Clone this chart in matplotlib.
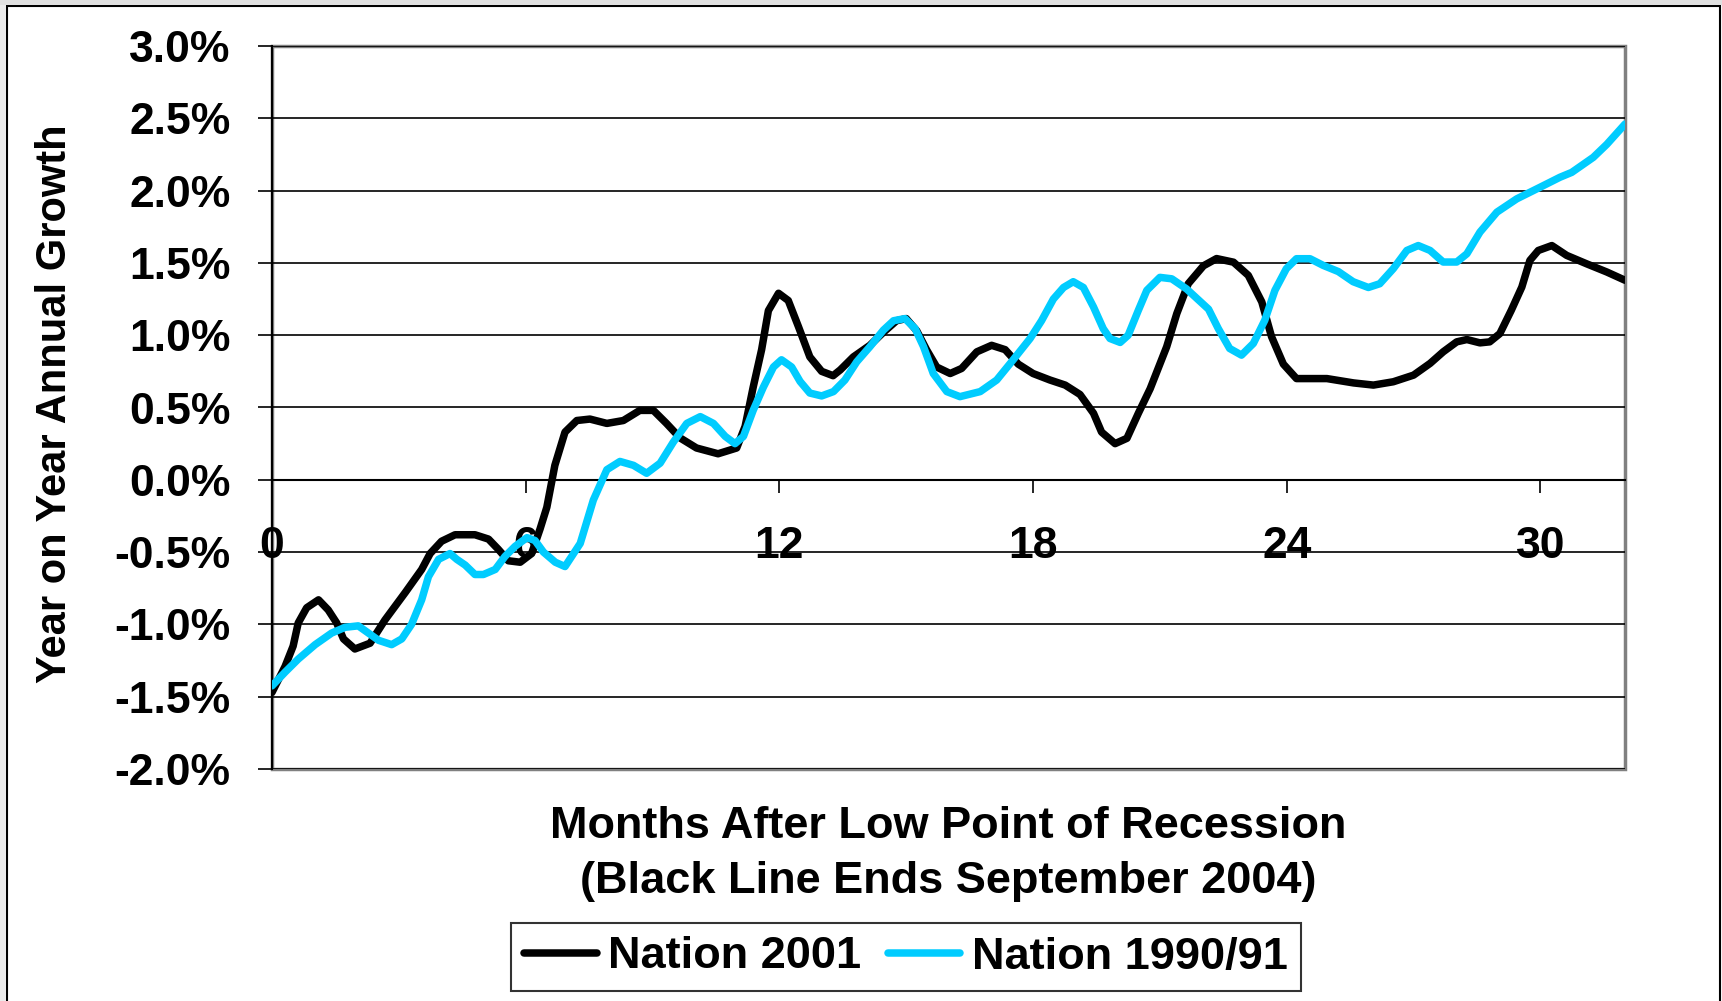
import matplotlib
matplotlib.use("Agg")
import matplotlib.pyplot as plt
from matplotlib.patches import Rectangle
from matplotlib.ticker import FuncFormatter

plt.rcParams['font.family'] = ['Liberation Sans', 'DejaVu Sans']
plt.rcParams['font.weight'] = 'bold'

# months after low point, year-on-year growth (%)
months_2001 = [0.0, 0.31, 0.5, 0.62, 0.82, 1.10, 1.33, 1.53, 1.69, 1.96, 2.32, 2.67, 3.15, 3.54,
               3.74, 4.01, 4.33, 4.80, 5.12, 5.35, 5.59, 5.87, 6.14, 6.34, 6.50, 6.69, 6.93, 7.21,
               7.52, 7.92, 8.31, 8.70, 9.02, 9.33, 9.65, 10.04, 10.55, 10.99, 11.19, 11.38, 11.58,
               11.74, 11.98, 12.21, 12.45, 12.72, 13.0, 13.27, 13.44, 13.75, 14.14, 14.46, 14.77,
               15.0, 15.25, 15.48, 15.72, 16.04, 16.31, 16.67, 17.02, 17.34, 17.65, 18.0, 18.40,
               18.76, 19.11, 19.43, 19.62, 19.94, 20.22, 20.49, 20.77, 21.16, 21.40, 21.67, 22.03,
               22.34, 22.74, 23.09, 23.41, 23.64, 23.92, 24.23, 24.95, 25.58, 26.05, 26.52, 27.0,
               27.39, 27.7, 28.02, 28.26, 28.57, 28.8, 29.04, 29.31, 29.56, 29.75, 29.95, 30.27,
               30.62, 31.09, 31.57, 32.0]
growth_2001 = [-1.47, -1.29, -1.15, -0.99, -0.885, -0.83, -0.90, -0.99, -1.10, -1.17, -1.13, -0.97,
               -0.78, -0.62, -0.51, -0.425, -0.38, -0.38, -0.41, -0.48, -0.56, -0.57, -0.51, -0.34,
               -0.19, 0.10, 0.33, 0.41, 0.42, 0.39, 0.41, 0.48, 0.48, 0.39, 0.29, 0.22, 0.18, 0.22,
               0.37, 0.64, 0.90, 1.17, 1.29, 1.24, 1.06, 0.85, 0.75, 0.72, 0.76, 0.85, 0.93, 1.02,
               1.10, 1.115, 1.03, 0.90, 0.78, 0.735, 0.77, 0.885, 0.93, 0.90, 0.80, 0.735, 0.69,
               0.655, 0.59, 0.46, 0.33, 0.25, 0.287, 0.46, 0.63, 0.92, 1.15, 1.356, 1.48, 1.53,
               1.505, 1.414, 1.23, 0.99, 0.80, 0.70, 0.70, 0.67, 0.655, 0.678, 0.724, 0.805, 0.885,
               0.954, 0.97, 0.947, 0.954, 1.011, 1.172, 1.333, 1.517, 1.586, 1.62, 1.552, 1.494,
               1.437, 1.38]

months_1990 = [0.0, 0.31, 0.62, 1.02, 1.41, 1.73, 2.04, 2.28, 2.52, 2.83, 3.07, 3.30, 3.54, 3.70,
               3.94, 4.21, 4.37, 4.57, 4.80, 5.0, 5.28, 5.51, 5.75, 6.03, 6.22, 6.42, 6.70, 6.93,
               7.29, 7.60, 7.92, 8.23, 8.55, 8.86, 9.18, 9.49, 9.81, 10.13, 10.44, 10.72, 10.95,
               11.15, 11.38, 11.62, 11.86, 12.05, 12.29, 12.49, 12.72, 13.0, 13.28, 13.55, 13.83,
               14.14, 14.46, 14.7, 14.97, 15.21, 15.41, 15.64, 15.96, 16.27, 16.75, 17.14, 17.53,
               17.93, 18.2, 18.48, 18.72, 18.95, 19.19, 19.43, 19.66, 19.82, 20.06, 20.25, 20.49,
               20.69, 21.0, 21.28, 21.63, 22.15, 22.38, 22.65, 22.93, 23.21, 23.48, 23.72, 23.99,
               24.23, 24.55, 24.86, 25.22, 25.57, 25.93, 26.2, 26.52, 26.84, 27.11, 27.39, 27.7,
               28.02, 28.26, 28.57, 28.97, 29.44, 29.99, 30.46, 30.74, 31.25, 31.57, 32.0]
growth_1990 = [-1.425, -1.33, -1.24, -1.14, -1.06, -1.02, -1.01, -1.06, -1.11, -1.14, -1.10, -1.0,
               -0.83, -0.67, -0.55, -0.51, -0.55, -0.59, -0.655, -0.655, -0.62, -0.53, -0.46, -0.40,
               -0.42, -0.50, -0.57, -0.60, -0.44, -0.14, 0.07, 0.127, 0.10, 0.045, 0.115, 0.26,
               0.39, 0.437, 0.39, 0.30, 0.25, 0.30, 0.48, 0.64, 0.78, 0.83, 0.78, 0.68, 0.60, 0.58,
               0.61, 0.69, 0.816, 0.92, 1.035, 1.10, 1.115, 1.046, 0.92, 0.735, 0.61, 0.575, 0.61,
               0.69, 0.83, 0.977, 1.10, 1.25, 1.33, 1.37, 1.33, 1.195, 1.045, 0.977, 0.95, 1.0,
               1.172, 1.31, 1.40, 1.39, 1.32, 1.18, 1.046, 0.908, 0.862, 0.943, 1.103, 1.31, 1.46,
               1.529, 1.529, 1.483, 1.44, 1.37, 1.33, 1.356, 1.46, 1.586, 1.62, 1.586, 1.506, 1.506,
               1.563, 1.713, 1.851, 1.943, 2.023, 2.092, 2.126, 2.23, 2.32, 2.46]

x_ticks = [0, 6, 12, 18, 24, 30]
y_ticks = [-2.0, -1.5, -1.0, -0.5, 0.0, 0.5, 1.0, 1.5, 2.0, 2.5, 3.0]

fig = plt.figure(figsize=(17.22, 10.01), dpi=100)
ax = fig.add_axes([272 / 1722, 1 - 769 / 1001, 1353 / 1722, 723 / 1001])

ax.plot(months_2001, growth_2001, color='black', lw=5.4, label='Nation 2001',
        solid_joinstyle='round', solid_capstyle='round', zorder=3)
ax.plot(months_1990, growth_1990, color='#00CCFF', lw=5.4, label='Nation 1990/91',
        solid_joinstyle='round', solid_capstyle='round', zorder=3)

ax.set_xlim(0, 32)
ax.set_ylim(-2.0, 3.0)
ax.set_xticks(x_ticks)
ax.set_yticks(y_ticks)
ax.yaxis.set_major_formatter(FuncFormatter(lambda v, p: f"{v:.1f}%"))
ax.yaxis.grid(True, color='black', lw=1.2)
ax.set_axisbelow('line')

# axis crosses at zero, plot area framed in grey
ax.spines['bottom'].set_position(('data', 0))
for s in ['top', 'right']:
    ax.spines[s].set_visible(False)
ax.spines['left'].set_color('black')
ax.spines['left'].set_linewidth(1.5)
ax.spines['bottom'].set_linewidth(1.5)
ax.add_patch(Rectangle((0, 0), 1, 1, transform=ax.transAxes, fill=False,
                       edgecolor='#808080', lw=2.5, clip_on=False, zorder=1))

ax.tick_params(axis='y', direction='out', length=10, width=1.2, pad=20, labelsize=32)
ax.tick_params(axis='x', direction='out', length=9.5, width=1.2, pad=24, labelsize=32)
for t in ax.get_xticklabels() + ax.get_yticklabels():
    t.set_fontweight('bold')

fig.text(55 / 1722, 1 - 404 / 1001, 'Year on Year Annual Growth', rotation=90,
         ha='center', va='center', fontsize=30, fontweight='bold')
fig.text(948 / 1722, 1 - 826 / 1001, 'Months After Low Point of Recession',
         ha='center', va='center', fontsize=32.5, fontweight='bold')
fig.text(948 / 1722, 1 - 881 / 1001, '(Black Line Ends September 2004)',
         ha='center', va='center', fontsize=32.5, fontweight='bold')

leg = fig.legend(loc='center', bbox_to_anchor=(906 / 1722, 1 - 957 / 1001), ncol=2,
                 fontsize=32.5, frameon=True, fancybox=False, edgecolor='black',
                 handlelength=1.6, handletextpad=0.25, columnspacing=0.6,
                 borderpad=0.3, borderaxespad=0)
leg.get_frame().set_linewidth(1.5)
for t in leg.get_texts():
    t.set_fontweight('bold')

# outer chart border
fig.patches.append(Rectangle((7 / 1722, -0.01), 1713 / 1722, 1 - 6 / 1001 + 0.01,
                             transform=fig.transFigure, fill=False, edgecolor='black', lw=1.5))
fig.patches.append(Rectangle((0, 0), 6 / 1722, 1, transform=fig.transFigure,
                             color='#ebebeb', lw=0))
fig.patches.append(Rectangle((0, 1 - 5 / 1001), 1, 5 / 1001, transform=fig.transFigure,
                             color='#e0e0e0', lw=0))

fig.savefig('out.png', dpi=100)
